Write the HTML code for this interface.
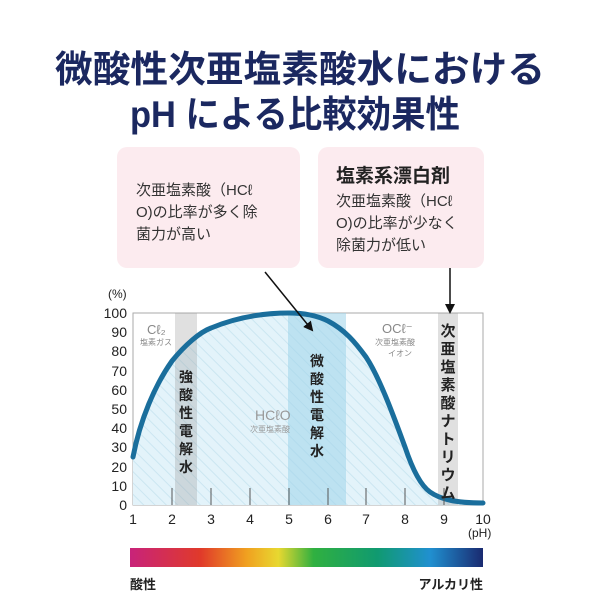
<!DOCTYPE html>
<html><head><meta charset="utf-8"><style>
body{margin:0;width:600px;height:600px;background:#fff;overflow:hidden;font-family:"Liberation Sans","Noto Sans CJK JP",sans-serif}
</style></head><body>
<svg width="600" height="600" viewBox="0 0 600 600" xmlns="http://www.w3.org/2000/svg" style="font-family:'Liberation Sans','Noto Sans CJK JP',sans-serif">
<defs>
<pattern id="h" width="8" height="8" patternUnits="userSpaceOnUse" patternTransform="rotate(-45)"><rect width="8" height="8" fill="#e3f3fa"/><line x1="0" y1="0" x2="0" y2="8" stroke="#cbe6f1" stroke-width="2"/></pattern>
<linearGradient id="g" x1="0" x2="1"><stop offset="0" stop-color="#c8237a"/><stop offset="0.2" stop-color="#e03a2a"/><stop offset="0.33" stop-color="#f0a020"/><stop offset="0.42" stop-color="#e8d830"/><stop offset="0.52" stop-color="#30b040"/><stop offset="0.7" stop-color="#109a70"/><stop offset="0.85" stop-color="#2090d0"/><stop offset="1" stop-color="#1a2a70"/></linearGradient>
<marker id="a" markerWidth="10" markerHeight="10" refX="8" refY="5" orient="auto" markerUnits="userSpaceOnUse"><path d="M0,0 L10,5 L0,10 Z" fill="#111"/></marker>
</defs>
<text x="55" y="82" textLength="490" lengthAdjust="spacingAndGlyphs" font-size="37" font-weight="bold" fill="#1b2860">微酸性次亜塩素酸水における</text>
<text x="130" y="127" textLength="330" lengthAdjust="spacingAndGlyphs" font-size="37" font-weight="bold" fill="#1b2860">pH による比較効果性</text>
<rect x="117" y="147" width="183" height="121" rx="10" fill="#fcebef"/>
<rect x="318" y="147" width="166" height="121" rx="10" fill="#fcebef"/>
<g font-size="15" fill="#333">
<text x="136" y="195">次亜塩素酸（HCℓ</text>
<text x="136" y="217">O)の比率が多く除</text>
<text x="136" y="239">菌力が高い</text>
<text x="336" y="206">次亜塩素酸（HCℓ</text>
<text x="336" y="228">O)の比率が少なく</text>
<text x="336" y="250">除菌力が低い</text>
</g>
<text x="336" y="182" font-size="19" font-weight="bold" fill="#222">塩素系漂白剤</text>
<rect x="133" y="313" width="350" height="192" fill="#fff" stroke="#aaa" stroke-width="1"/>
<path d="M133,457 L152,399 L172,361 L191,340 L211,328 L250,317 L289,313 L308,314 L328,321 L347,332 L366,357 L386,394 L405,447 L425,486 L444,499 L464,503 L483,503 L483,505 L133,505 Z" fill="url(#h)"/>
<rect x="288" y="313" width="58" height="192" fill="#9fd4ea" opacity="0.55"/>
<rect x="175" y="313" width="22" height="192" fill="#999" opacity="0.3"/>
<rect x="438" y="313" width="20" height="192" fill="#999" opacity="0.3"/>
<path d="M133,457 C140,420 155,385 172,361 C185,345 200,332 211,328 C235,318 260,313 289,313 C305,313 318,316 328,321 C345,330 355,342 366,357 C380,378 395,420 405,447 C412,468 420,485 430,492 C440,499 455,503 483,503" fill="none" stroke="#1a6e9c" stroke-width="5" stroke-linecap="round"/>
<g stroke="#555" stroke-width="1">
<line x1="172" y1="488" x2="172" y2="505"/><line x1="211" y1="488" x2="211" y2="505"/><line x1="250" y1="488" x2="250" y2="505"/><line x1="289" y1="488" x2="289" y2="505"/><line x1="328" y1="488" x2="328" y2="505"/><line x1="366" y1="488" x2="366" y2="505"/><line x1="405" y1="488" x2="405" y2="505"/><line x1="444" y1="488" x2="444" y2="505"/>
</g>
<g font-size="14" fill="#222" text-anchor="end">
<text x="127" y="318">100</text><text x="127" y="337">90</text><text x="127" y="356">80</text><text x="127" y="376">70</text><text x="127" y="395">60</text><text x="127" y="414">50</text><text x="127" y="433">40</text><text x="127" y="452">30</text><text x="127" y="472">20</text><text x="127" y="491">10</text><text x="127" y="510">0</text>
</g>
<text x="108" y="298" font-size="12" fill="#222">(%)</text>
<g font-size="14" fill="#222" text-anchor="middle">
<text x="133" y="524">1</text><text x="172" y="524">2</text><text x="211" y="524">3</text><text x="250" y="524">4</text><text x="289" y="524">5</text><text x="328" y="524">6</text><text x="366" y="524">7</text><text x="405" y="524">8</text><text x="444" y="524">9</text><text x="483" y="524">10</text>
</g>
<text x="468" y="537" font-size="12" fill="#222">(pH)</text>
<text x="147" y="334" font-size="13" fill="#888">Cℓ₂</text>
<text x="140" y="345" font-size="8" fill="#888">塩素ガス</text>
<text x="255" y="420" font-size="14" fill="#999">HCℓO</text>
<text x="250" y="432" font-size="8" fill="#999">次亜塩素酸</text>
<text x="382" y="333" font-size="13" fill="#888">OCℓ⁻</text>
<text x="375" y="345" font-size="8" fill="#888">次亜塩素酸</text>
<text x="388" y="356" font-size="8" fill="#888">イオン</text>
<g font-size="14" font-weight="bold" fill="#222" text-anchor="middle">
<text x="186" y="382">強</text><text x="186" y="400">酸</text><text x="186" y="418">性</text><text x="186" y="436">電</text><text x="186" y="454">解</text><text x="186" y="472">水</text>
<text x="317" y="366">微</text><text x="317" y="384">酸</text><text x="317" y="402">性</text><text x="317" y="420">電</text><text x="317" y="438">解</text><text x="317" y="456">水</text>
</g>
<g font-size="15" font-weight="bold" fill="#222" text-anchor="middle">
<text x="448" y="336">次</text><text x="448" y="354">亜</text><text x="448" y="372">塩</text><text x="448" y="390">素</text><text x="448" y="408">酸</text><text x="448" y="426">ナ</text><text x="448" y="444">ト</text><text x="448" y="462">リ</text><text x="448" y="480">ウ</text><text x="448" y="498">ム</text>
</g>
<line x1="265" y1="272" x2="312" y2="330" stroke="#111" stroke-width="1.5" marker-end="url(#a)"/>
<line x1="450" y1="268" x2="450" y2="312" stroke="#111" stroke-width="1.5" marker-end="url(#a)"/>
<rect x="130" y="548" width="353" height="19" fill="url(#g)"/>
<text x="130" y="589" font-size="13" font-weight="bold" fill="#222">酸性</text>
<text x="483" y="589" font-size="13" font-weight="bold" fill="#222" text-anchor="end">アルカリ性</text>
</svg>
</body></html>
